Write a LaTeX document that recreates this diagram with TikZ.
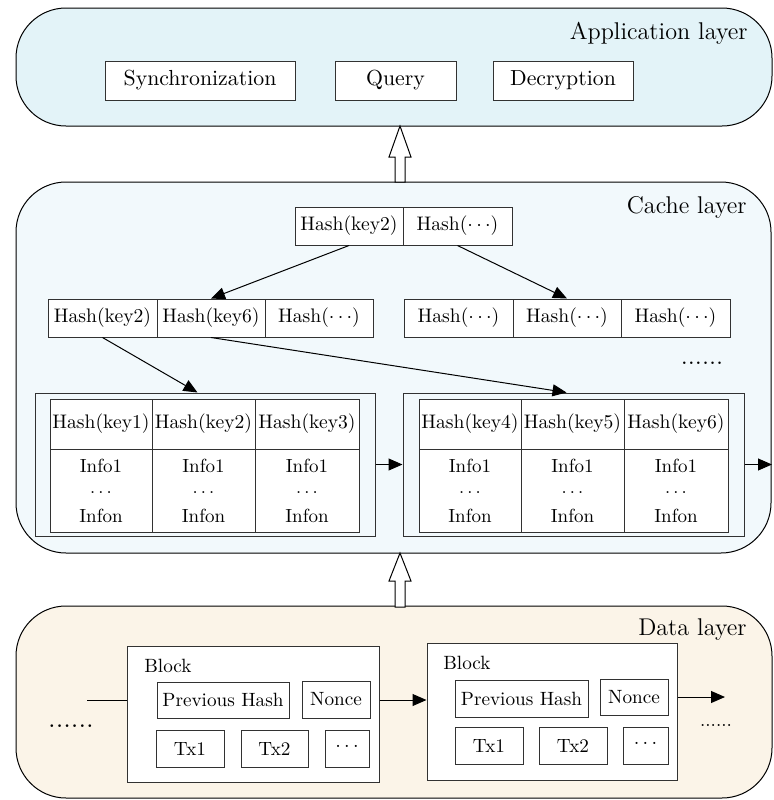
\documentclass[tikz,border=0pt]{standalone}
\usetikzlibrary{arrows.meta,calc}

\definecolor{appfill}{RGB}{227,243,248}
\definecolor{cachefill}{RGB}{242,249,252}
\definecolor{datafill}{RGB}{251,244,232}
\definecolor{edge}{RGB}{50,50,50}

\tikzset{
  layer/.style={draw=black, line width=0.5pt, rounded corners=25pt, inner sep=0pt},
  layerlabel/.style={anchor=east, inner sep=0pt, font=\fontsize{12.1}{15}\selectfont},
  appbox/.style={draw=edge, fill=white, line width=0.5pt, inner sep=0pt,
    minimum height=19.5pt, font=\fontsize{10.9}{14}\selectfont},
  cell/.style={draw=edge, fill=white, line width=0.5pt, inner sep=0pt,
    minimum height=19pt, font=\fontsize{9.8}{12.5}\selectfont},
  leafbox/.style={draw=edge, fill=cachefill, line width=0.5pt, inner sep=0pt,
    minimum width=170pt, minimum height=71.5pt},
  headcell/.style={draw=edge, fill=white, line width=0.5pt, inner sep=0pt,
    minimum width=51pt, minimum height=25pt, font=\fontsize{9.8}{12.5}\selectfont},
  infocell/.style={draw=edge, fill=white, line width=0.5pt, inner sep=0pt,
    minimum width=51pt, minimum height=41.5pt, align=center,
    font=\fontsize{9.5}{12.5}\selectfont},
  blockbox/.style={draw=edge, fill=white, line width=0.5pt, inner sep=0pt},
  item/.style={draw=edge, fill=white, line width=0.5pt, inner sep=0pt,
    minimum height=18.5pt, font=\fontsize{9.6}{12}\selectfont},
  arr/.style={draw=black, line width=0.5pt, -{Triangle[length=7pt,width=6pt]}},
  plainline/.style={draw=black, line width=0.5pt},
  hollow/.style={draw=black, fill=white, line width=0.5pt, line join=miter},
  dots/.style={inner sep=0pt}
}

\begin{document}
\begin{tikzpicture}[x=0.5pt, y=-0.5pt]
\useasboundingbox (0,0) rectangle (774,800);

% ---------------- layers ----------------
\node[layer, fill=appfill, minimum width=378pt, minimum height=59pt] (app) at (394,67) {};
\node[layer, fill=cachefill, minimum width=377.5pt, minimum height=185.5pt] (cache) at (393.5,367.5) {};
\node[layer, fill=datafill, minimum width=378pt, minimum height=96pt] (data) at (394,702) {};

\node[layerlabel] (applabel) at (748,33) {Application layer};
\node[layerlabel] (cachelabel) at (747,207) {Cache layer};
\node[layerlabel] (datalabel) at (747,630) {Data layer};

% ---------------- application layer ----------------
\node[appbox, minimum width=95pt] (sync) at (200,80.5) {Synchronization};
\node[appbox, minimum width=60.5pt] (query) at (395.5,80.5) {Query};
\node[appbox, minimum width=70pt] (decr) at (563,80.5) {Decryption};

% hollow arrows between the layers
\coordinate (up1) at (400,126);
\draw[hollow] (up1) -- ++(11,31) -- ++(-6,0) -- ++(0,25) -- ++(-10,0) -- ++(0,-25) -- ++(-6,0) -- cycle;
\coordinate (up2) at (400,553);
\draw[hollow] (up2) -- ++(11,28) -- ++(-6,0) -- ++(0,26) -- ++(-10,0) -- ++(0,-26) -- ++(-6,0) -- cycle;

% ---------------- cache layer: index tree ----------------
\node[cell, minimum width=54pt] (t1) at (349,226) {Hash(key2)};
\node[cell, minimum width=54.5pt] (t2) at (457.5,226) {Hash($\cdots$)};

\node[cell, minimum width=54.5pt] (m1) at (102.5,318) {Hash(key2)};
\node[cell, minimum width=54pt] (m2) at (211,318) {Hash(key6)};
\node[cell, minimum width=54pt] (m3) at (319,318) {Hash($\cdots$)};

\node[cell, minimum width=54.5pt] (r1) at (458.5,318) {Hash($\cdots$)};
\node[cell, minimum width=54pt] (r2) at (567,318) {Hash($\cdots$)};
\node[cell, minimum width=54.5pt] (r3) at (675.5,318) {Hash($\cdots$)};

\node[dots, font=\fontsize{13}{14}\selectfont] (cdots) at (702,363) {......};

% leaf pages
\node[leafbox] (L1) at (205,464.5) {};
\node[headcell] (c11) at (101,424) {Hash(key1)};
\node[headcell, minimum width=51.5pt] (c12) at (203.5,424) {Hash(key2)};
\node[headcell, minimum width=52pt] (c13) at (307,424) {Hash(key3)};
\node[infocell] (i11) at (101,490.5) {Info1\\\raisebox{2pt}{$\dots$}\\Infon};
\node[infocell, minimum width=51.5pt] (i12) at (203.5,490.5) {Info1\\\raisebox{2pt}{$\dots$}\\Infon};
\node[infocell, minimum width=52pt] (i13) at (307,490.5) {Info1\\\raisebox{2pt}{$\dots$}\\Infon};

\node[leafbox, minimum width=170.5pt] (L2) at (573.5,464.5) {};
\node[headcell] (c21) at (470,424) {Hash(key4)};
\node[headcell, minimum width=51.5pt] (c22) at (572.5,424) {Hash(key5)};
\node[headcell, minimum width=52pt] (c23) at (676,424) {Hash(key6)};
\node[infocell] (i21) at (470,490.5) {Info1\\\raisebox{2pt}{$\dots$}\\Infon};
\node[infocell, minimum width=51.5pt] (i22) at (572.5,490.5) {Info1\\\raisebox{2pt}{$\dots$}\\Infon};
\node[infocell, minimum width=52pt] (i23) at (676,490.5) {Info1\\\raisebox{2pt}{$\dots$}\\Infon};

\coordinate (Lout) at (772,464.5);

% pointers
\draw[arr] (t1.south) -- (m2.north);
\draw[arr] (t2.south) -- (r2.north);
\draw[arr] (m1.south) -- ($(c12 |- L1.north)+(-6,0)$);
\draw[arr] (m2.south) -- ($(c22 |- L2.north)+(-6,0)$);
\draw[arr] (L1.east) -- (L2.west);
\draw[arr] (L2.east) -- (Lout);

% ---------------- data layer: chain of blocks ----------------
\node[blockbox, minimum width=126pt, minimum height=68pt] (B1) at (253,714) {};
\node[anchor=west, inner sep=0pt, font=\fontsize{9.6}{12}\selectfont] (B1label) at (144,666) {Block};
\node[item, minimum width=66pt, minimum height=18pt] (ph1) at (223,700) {Previous Hash};
\node[item, minimum width=34pt] (n1) at (336,699.5) {Nonce};
\node[item, minimum width=34pt] (tx11) at (190,748.5) {Tx1};
\node[item, minimum width=33.5pt] (tx12) at (274.5,748.5) {Tx2};
\node[item, minimum width=22pt] (tx13) at (347,748.5) {\raisebox{2pt}{$\dots$}};

\node[blockbox, minimum width=125pt, minimum height=68.5pt] (B2) at (552,711.5) {};
\node[anchor=west, inner sep=0pt, font=\fontsize{9.6}{12}\selectfont] (B2label) at (443,663) {Block};
\node[item, minimum width=66.5pt] (ph2) at (521.5,698.5) {Previous Hash};
\node[item, minimum width=34pt, minimum height=18pt] (n2) at (634,697) {Nonce};
\node[item, minimum width=34pt] (tx21) at (489,745.5) {Tx1};
\node[item, minimum width=34pt] (tx22) at (573,745.5) {Tx2};
\node[item, minimum width=22.5pt] (tx23) at (645.5,745.5) {\raisebox{2pt}{$\dots$}};

\coordinate (chainin) at (87,700);
\coordinate (chainout) at (725,697);
\node[dots, font=\fontsize{14}{15}\selectfont] (ldots) at (71,726) {......};
\node[dots, font=\fontsize{9.5}{10}\selectfont] (rdots) at (716,725) {......};

\draw[plainline] (chainin) -- (B1.west |- ph1.center);
\draw[arr] (B1.east |- ph1.center) -- (B2.west |- ph1.center);
\draw[arr] (B2.east |- n2.center) -- (chainout);

\end{tikzpicture}
\end{document}
